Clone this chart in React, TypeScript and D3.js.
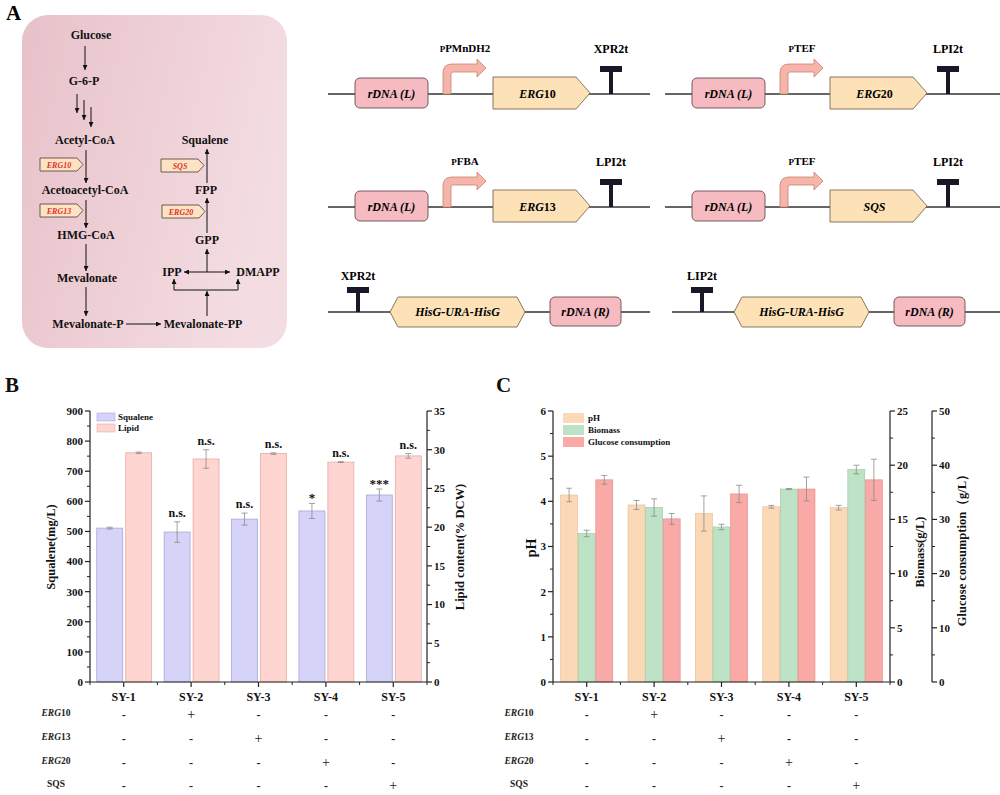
import React from 'react';
import * as d3 from 'd3';

const SERIF = '"Liberation Serif", "Times New Roman", serif';

// ---- data ----
const strains = ['SY-1', 'SY-2', 'SY-3', 'SY-4', 'SY-5'];

const squalene = [511, 498, 541, 568, 621];
const squaleneErr = [3, 34, 20, 25, 20];
const squaleneSig = ['', 'n.s.', 'n.s.', '*', '***'];
const lipid = [29.6, 28.8, 29.5, 28.4, 29.2];
const lipidErr = [0.1, 1.2, 0.1, 0.05, 0.3];
const lipidSig = ['', 'n.s.', 'n.s.', 'n.s.', 'n.s.'];

const ph = [4.14, 3.92, 3.73, 3.88, 3.86];
const phErr = [0.15, 0.1, 0.39, 0.03, 0.05];
const biomass = [13.7, 16.1, 14.3, 17.8, 19.6];
const biomassErr = [0.3, 0.8, 0.25, 0.05, 0.4];
const glucose = [37.3, 30.1, 34.7, 35.6, 37.3];
const glucoseErr = [0.8, 1.0, 1.6, 2.2, 3.8];

const squaleneTicks = [0, 100, 200, 300, 400, 500, 600, 700, 800, 900];
const lipidTicks = [0, 5, 10, 15, 20, 25, 30, 35];
const phTicks = [0, 1, 2, 3, 4, 5, 6];
const biomassTicks = [0, 5, 10, 15, 20, 25];
const glucoseTicks = [0, 10, 20, 30, 40, 50];

const geneRows = [
  { italic: 'ERG', plain: '10' },
  { italic: 'ERG', plain: '13' },
  { italic: 'ERG', plain: '20' },
  { italic: '', plain: 'SQS' },
];
const geneMatrix = [
  [0, 1, 0, 0, 0],
  [0, 0, 1, 0, 0],
  [0, 0, 0, 1, 0],
  [0, 0, 0, 0, 1],
];

// ---- panel A diagram content ----
const pathwayNodes = [
  { label: 'Glucose', x: 91, y: 39 },
  { label: 'G-6-P', x: 84, y: 85 },
  { label: 'Acetyl-CoA', x: 85, y: 144 },
  { label: 'Acetoacetyl-CoA', x: 85, y: 194 },
  { label: 'HMG-CoA', x: 86, y: 239 },
  { label: 'Mevalonate', x: 87, y: 282 },
  { label: 'Mevalonate-P', x: 88, y: 328 },
  { label: 'Mevalonate-PP', x: 203, y: 328 },
  { label: 'IPP', x: 172, y: 276 },
  { label: 'DMAPP', x: 258, y: 276 },
  { label: 'GPP', x: 207, y: 244 },
  { label: 'FPP', x: 206, y: 194 },
  { label: 'Squalene', x: 205, y: 144 },
];
const pathwayArrows = [
  [85, 46, 85, 70],
  [77, 94, 77, 113],
  [84, 100, 84, 120],
  [91, 107, 91, 127],
  [86, 150, 86, 183],
  [86, 200, 86, 228],
  [86, 244, 86, 271],
  [86, 287, 86, 316],
  [126, 324, 161, 324],
  [207, 316, 207, 291],
  [174, 290, 174, 279],
  [238, 290, 238, 279],
  [207, 272, 207, 249],
  [207, 233, 207, 198],
  [207, 183, 207, 149],
];
const pathwayTags = [
  { italic: 'ERG10', x: 40, y: 158 },
  { italic: 'ERG13', x: 40, y: 204 },
  { italic: 'SQS', x: 161, y: 159 },
  { italic: 'ERG20', x: 162, y: 205 },
];

const constructs = [
  { x0: 328, x1: 650, y: 94, promoter: 'PMnDH2', gene: 'ERG', geneNum: '10', term: 'XPR2t' },
  { x0: 665, x1: 1000, y: 94, promoter: 'TEF', gene: 'ERG', geneNum: '20', term: 'LPI2t' },
  { x0: 328, x1: 650, y: 207, promoter: 'FBA', gene: 'ERG', geneNum: '13', term: 'LPI2t' },
  { x0: 665, x1: 1000, y: 207, promoter: 'TEF', gene: 'SQS', geneNum: '', term: 'LPI2t' },
];
const downstream = [
  { x0: 328, x1: 650, y: 312, term: 'XPR2t' },
  { x0: 672, x1: 1000, y: 312, term: 'LIP2t' },
];

const C_RDNA = '#f6bac1';
const C_GENE = '#fde2b8';
const C_PROM = '#f6b5a9';
const C_TERM = '#181828';

function Terminator({ x, y, h, label, labelY }: any) {
  return (
    <g>
      <rect x={x - 2} y={y - h} width={4} height={h} fill={C_TERM} />
      <rect x={x - 11} y={y - h} width={22} height={6} fill={C_TERM} />
      <text x={x} y={labelY} textAnchor="middle" fontSize={12} fontWeight="bold">{label}</text>
    </g>
  );
}

function Promoter({ x, y }: any) {
  const top = y - 30;
  const w = 8;
  const r = 9;
  const hx = x + 34;
  const tip = x + 43;
  const d = `M${x},${y} L${x},${top + r} Q${x},${top} ${x + r},${top} L${hx},${top} L${hx},${top - 5} L${tip},${top + w / 2} L${hx},${top + w + 5} L${hx},${top + w} L${x + w + 2},${top + w} Q${x + w},${top + w} ${x + w},${top + w + 2} L${x + w},${y} Z`;
  return <path d={d} fill={C_PROM} stroke="#c98276" strokeWidth={0.8} />;
}

function PanelA() {
  return (
    <g fontFamily={SERIF}>
      <text x={6} y={20} fontSize={21} fontWeight="bold">A</text>
      <rect x={22} y={15} width={265} height={333} rx={26} fill="url(#pathBg)" />
      {pathwayArrows.map((a, i) => (
        <line key={i} x1={a[0]} y1={a[1]} x2={a[2]} y2={a[3]} stroke="#111" strokeWidth={1} markerEnd="url(#ah)" />
      ))}
      <line x1={174} y1={290} x2={238} y2={290} stroke="#111" strokeWidth={1} />
      <line x1={184} y1={272} x2={230} y2={272} stroke="#111" strokeWidth={1} markerStart="url(#ahs)" markerEnd="url(#ah)" />
      {pathwayNodes.map((n) => (
        <text key={n.label} x={n.x} y={n.y} textAnchor="middle" fontSize={12} fontWeight="bold" fill="#111">{n.label}</text>
      ))}
      {pathwayTags.map((t) => (
        <g key={t.italic}>
          <path d={`M${t.x},${t.y} L${t.x + 37},${t.y} L${t.x + 43},${t.y + 6.5} L${t.x + 37},${t.y + 13} L${t.x},${t.y + 13} Z`} fill="#fde3c4" stroke="#4a3a30" strokeWidth={0.8} />
          <text x={t.x + 19} y={t.y + 9.5} textAnchor="middle" fontSize={8} fontStyle="italic" fontWeight="bold" fill="#e2302a">{t.italic}</text>
        </g>
      ))}

      {constructs.map((c, i) => {
        const rx = c.x0 + 27;
        const px = c.x0 + 115;
        const gx = c.x0 + 165;
        const tx = c.x0 + 283;
        const gw = 97;
        return (
          <g key={i}>
            <line x1={c.x0} y1={c.y} x2={c.x1} y2={c.y} stroke="#333" strokeWidth={1.5} />
            <rect x={rx} y={c.y - 16} width={73} height={30} rx={5} fill={C_RDNA} stroke="#6b4a50" strokeWidth={0.9} />
            <text x={rx + 36.5} y={c.y + 4} textAnchor="middle" fontSize={12} fontStyle="italic" fontWeight="bold">rDNA (L)</text>
            <Promoter x={px} y={c.y} />
            <text x={px + 22} y={c.y - 42} textAnchor="middle" fontSize={11} fontWeight="bold">
              <tspan fontSize={9}>P</tspan>{c.promoter}
            </text>
            <path d={`M${gx},${c.y - 17} L${gx + gw - 14},${c.y - 17} L${gx + gw},${c.y - 1} L${gx + gw - 14},${c.y + 15} L${gx},${c.y + 15} Z`} fill={C_GENE} stroke="#7a6a55" strokeWidth={0.9} />
            <text x={gx + (gw - 8) / 2} y={c.y + 4} textAnchor="middle" fontSize={12} fontWeight="bold">
              <tspan fontStyle="italic">{c.gene}</tspan>{c.geneNum}
            </text>
            <Terminator x={tx} y={c.y} h={28} label={c.term} labelY={c.y - 41} />
          </g>
        );
      })}

      {downstream.map((c, i) => {
        const tx = c.x0 + 30;
        const hx0 = c.x0 + 62;
        const hx1 = c.x0 + 197;
        const rx = c.x0 + 222;
        return (
          <g key={i}>
            <line x1={c.x0} y1={c.y} x2={c.x1} y2={c.y} stroke="#333" strokeWidth={1.5} />
            <Terminator x={tx} y={c.y} h={25} label={c.term} labelY={c.y - 32} />
            <path d={`M${hx0},${c.y} L${hx0 + 8},${c.y - 15} L${hx1 - 8},${c.y - 15} L${hx1},${c.y} L${hx1 - 8},${c.y + 15} L${hx0 + 8},${c.y + 15} Z`} fill={C_GENE} stroke="#7a6a55" strokeWidth={0.9} />
            <text x={(hx0 + hx1) / 2} y={c.y + 4} textAnchor="middle" fontSize={12} fontStyle="italic" fontWeight="bold">HisG-URA-HisG</text>
            <rect x={rx} y={c.y - 15} width={71} height={29} rx={5} fill={C_RDNA} stroke="#6b4a50" strokeWidth={0.9} />
            <text x={rx + 35.5} y={c.y + 4} textAnchor="middle" fontSize={12} fontStyle="italic" fontWeight="bold">rDNA (R)</text>
          </g>
        );
      })}
    </g>
  );
}

// ---- axes helpers ----
function VAxis({ scale, x, ticks, side }: any) {
  const dir = side === 'left' ? -1 : 1;
  const minor = ticks.slice(1).map((t: number, i: number) => (t + ticks[i]) / 2);
  const [r0, r1] = scale.range();
  return (
    <g>
      <line x1={x} y1={r0} x2={x} y2={r1} stroke="#222" strokeWidth={1.2} />
      {ticks.map((t: number) => (
        <g key={t}>
          <line x1={x} x2={x + dir * 5} y1={scale(t)} y2={scale(t)} stroke="#222" strokeWidth={1.2} />
          <text x={x + dir * 7} y={scale(t)} dy="0.35em" textAnchor={side === 'left' ? 'end' : 'start'} fontSize={11} fontWeight="bold">{t}</text>
        </g>
      ))}
      {minor.map((t: number) => (
        <line key={t} x1={x} x2={x + dir * 3} y1={scale(t)} y2={scale(t)} stroke="#222" strokeWidth={1} />
      ))}
    </g>
  );
}

function XAxis({ band, y }: any) {
  const [a, b] = band.range();
  const bounds = band.domain().map((d: string) => band(d)).concat([b]);
  return (
    <g>
      <line x1={a} x2={b} y1={y} y2={y} stroke="#222" strokeWidth={1.2} />
      {band.domain().map((d: string) => {
        const cx = band(d) + band.bandwidth() / 2;
        return (
          <g key={d}>
            <line x1={cx} x2={cx} y1={y} y2={y + 5} stroke="#222" strokeWidth={1.2} />
            <text x={cx} y={y + 19} textAnchor="middle" fontSize={12} fontWeight="bold">{d}</text>
          </g>
        );
      })}
      {bounds.map((bx: number, i: number) => (
        <line key={i} x1={bx} x2={bx} y1={y} y2={y + 3} stroke="#222" strokeWidth={1} />
      ))}
    </g>
  );
}

function ErrorBar({ x, scale, v, e }: any) {
  const y0 = scale(v - e);
  const y1 = scale(v + e);
  return (
    <g stroke="#8a8a8a" strokeWidth={0.8}>
      <line x1={x} x2={x} y1={y0} y2={y1} />
      <line x1={x - 3} x2={x + 3} y1={y0} y2={y0} />
      <line x1={x - 3} x2={x + 3} y1={y1} y2={y1} />
    </g>
  );
}

function GeneTable({ band, labelX }: any) {
  const rowY = [716, 740, 764, 787];
  return (
    <g>
      {geneRows.map((g, r) => (
        <g key={r}>
          <text x={labelX} y={rowY[r]} textAnchor="middle" fontSize={9.5} fontWeight="bold" fill="#222">
            <tspan fontStyle="italic">{g.italic}</tspan>{g.plain}
          </text>
          {strains.map((s, i) => (
            <text key={s} x={band(s) + band.bandwidth() / 2} y={rowY[r] + 3} textAnchor="middle" fontSize={geneMatrix[r][i] ? 14 : 12} fontWeight={geneMatrix[r][i] ? 'normal' : 'bold'} fill="#222">
              {geneMatrix[r][i] ? '+' : '-'}
            </text>
          ))}
        </g>
      ))}
    </g>
  );
}

const TOP = 411;
const BASE = 682;

function PanelB() {
  const band = d3.scaleBand().domain(strains).range([90, 427]);
  const ySq = d3.scaleLinear().domain([0, 900]).range([BASE, TOP]);
  const yLip = d3.scaleLinear().domain([0, 35]).range([BASE, TOP]);
  const bw = band.bandwidth();
  const barW = bw * 0.385;
  return (
    <g fontFamily={SERIF} fill="#111">
      <text x={5} y={392} fontSize={21} fontWeight="bold">B</text>
      {strains.map((s, i) => {
        const cx = (band(s) as number) + bw / 2;
        const sx = cx - barW - 1;
        const lx = cx + 2;
        return (
          <g key={s}>
            <rect x={sx} y={ySq(squalene[i])} width={barW} height={BASE - ySq(squalene[i])} fill="#d5d3f8" stroke="#a9a7d8" strokeWidth={0.8} />
            <rect x={lx} y={yLip(lipid[i])} width={barW} height={BASE - yLip(lipid[i])} fill="#fed5d1" stroke="#e8aaa6" strokeWidth={0.8} />
            <ErrorBar x={sx + barW / 2} scale={ySq} v={squalene[i]} e={squaleneErr[i]} />
            <ErrorBar x={lx + barW / 2} scale={yLip} v={lipid[i]} e={lipidErr[i]} />
            {squaleneSig[i] && (
              <text x={sx + barW / 2} y={ySq(squalene[i] + squaleneErr[i]) - (squaleneSig[i].startsWith('*') ? 1 : 5)} textAnchor="middle" fontSize={squaleneSig[i].startsWith('*') ? 13 : 12} fontWeight="bold">{squaleneSig[i]}</text>
            )}
            {lipidSig[i] && (
              <text x={lx + barW / 2} y={yLip(lipid[i] + lipidErr[i]) - 5} textAnchor="middle" fontSize={12} fontWeight="bold">{lipidSig[i]}</text>
            )}
          </g>
        );
      })}
      <VAxis scale={ySq} x={90} ticks={squaleneTicks} side="left" />
      <VAxis scale={yLip} x={427} ticks={lipidTicks} side="right" />
      <XAxis band={band} y={BASE} />
      <text transform={`translate(55,547) rotate(-90)`} textAnchor="middle" fontSize={12.5} fontWeight="bold">Squalene(mg/L)</text>
      <text transform={`translate(464,547) rotate(-90)`} textAnchor="middle" fontSize={12.5} fontWeight="bold">Lipid content(% DCW)</text>
      <g fontSize={9} fontWeight="bold">
        <rect x={97} y={413} width={18} height={8} fill="#d5d3f8" stroke="#a9a7d8" strokeWidth={0.6} />
        <text x={118} y={420}>Squalene</text>
        <rect x={97} y={424} width={18} height={8} fill="#fed5d1" stroke="#e8aaa6" strokeWidth={0.6} />
        <text x={118} y={431}>Lipid</text>
      </g>
      <GeneTable band={band} labelX={56} />
    </g>
  );
}

function PanelC() {
  const band = d3.scaleBand().domain(strains).range([553, 890]);
  const yPh = d3.scaleLinear().domain([0, 6]).range([BASE, TOP]);
  const yBio = d3.scaleLinear().domain([0, 25]).range([BASE, TOP]);
  const yGlu = d3.scaleLinear().domain([0, 50]).range([BASE, TOP]);
  const bw = band.bandwidth();
  const barW = bw * 0.252;
  const series = [
    { vals: ph, errs: phErr, scale: yPh, fill: '#fcd9b6', stroke: '#e6bb92' },
    { vals: biomass, errs: biomassErr, scale: yBio, fill: '#bde2c6', stroke: '#98c6a3' },
    { vals: glucose, errs: glucoseErr, scale: yGlu, fill: '#f9aaa6', stroke: '#e08a86' },
  ];
  return (
    <g fontFamily={SERIF} fill="#111">
      <text x={496} y={392} fontSize={21} fontWeight="bold">C</text>
      {strains.map((s, i) => {
        const cx = (band(s) as number) + bw / 2;
        return (
          <g key={s}>
            {series.map((ser, k) => {
              const x = cx - 1.5 * barW - 0.6 + k * (barW + 0.6);
              const v = ser.vals[i];
              return (
                <g key={k}>
                  <rect x={x} y={ser.scale(v)} width={barW} height={BASE - ser.scale(v)} fill={ser.fill} stroke={ser.stroke} strokeWidth={0.6} />
                  <ErrorBar x={x + barW / 2} scale={ser.scale} v={v} e={ser.errs[i]} />
                </g>
              );
            })}
          </g>
        );
      })}
      <VAxis scale={yPh} x={553} ticks={phTicks} side="left" />
      <VAxis scale={yBio} x={890} ticks={biomassTicks} side="right" />
      <VAxis scale={yGlu} x={932} ticks={glucoseTicks} side="right" />
      <XAxis band={band} y={BASE} />
      <text transform={`translate(536,548) rotate(-90)`} textAnchor="middle" fontSize={14} fontWeight="bold">pH</text>
      <text transform={`translate(924,552) rotate(-90)`} textAnchor="middle" fontSize={12.5} fontWeight="bold">Biomass(g/L)</text>
      <text transform={`translate(966,547) rotate(-90)`} textAnchor="middle" fontSize={12.5} fontWeight="bold">Glucose consumption（g/L）</text>
      <g fontSize={9} fontWeight="bold">
        {[['pH', series[0]], ['Biomass', series[1]], ['Glucose consumption', series[2]]].map(([lab, ser]: any, k) => (
          <g key={lab}>
            <rect x={563} y={413 + k * 12} width={21} height={10} fill={ser.fill} stroke="none" />
            <text x={588} y={421 + k * 12}>{lab}</text>
          </g>
        ))}
      </g>
      <GeneTable band={band} labelX={519} />
    </g>
  );
}

export default function App() {
  return (
    <svg width={1000} height={795} style={{ position: 'absolute', left: 0, top: 0, background: '#fff' }}>
      <defs>
        <linearGradient id="pathBg" x1="0" x2="1" y1="0" y2="0.3">
          <stop offset="0%" stopColor="#e8c1c9" />
          <stop offset="100%" stopColor="#f3dde2" />
        </linearGradient>
        <marker id="ah" viewBox="0 0 6 6" refX={6} refY={3} markerWidth={5} markerHeight={5} orient="auto" markerUnits="userSpaceOnUse">
          <path d="M0,0 L6,3 L0,6 Z" fill="#111" />
        </marker>
        <marker id="ahs" viewBox="0 0 6 6" refX={6} refY={3} markerWidth={5} markerHeight={5} orient="auto-start-reverse" markerUnits="userSpaceOnUse">
          <path d="M0,0 L6,3 L0,6 Z" fill="#111" />
        </marker>
      </defs>
      <PanelA />
      <PanelB />
      <PanelC />
    </svg>
  );
}
